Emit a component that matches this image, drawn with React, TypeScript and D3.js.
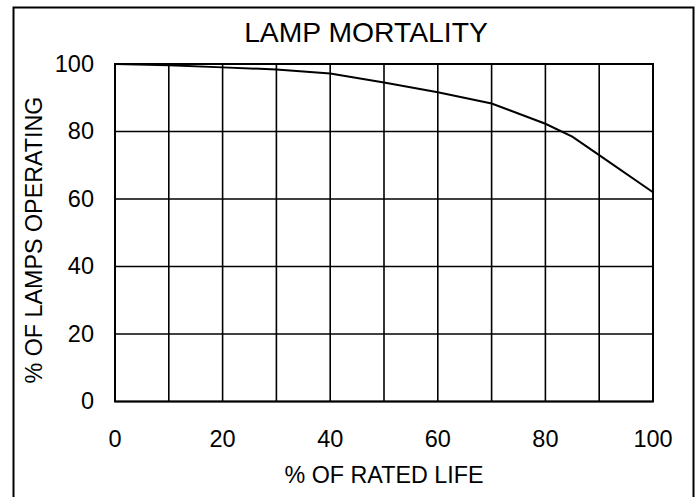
import React from "react";
import * as d3 from "d3";

const ratedLife = [0, 10, 20, 30, 40, 50, 60, 70, 80, 85, 90, 100];
const lampsOperating = [100, 99.6, 99, 98.4, 97.2, 94.5, 91.6, 88.3, 82.3, 78.5, 73, 62];
const xTicks = [0, 20, 40, 60, 80, 100];
const yTicks = [0, 20, 40, 60, 80, 100];
const xGrid = [0, 10, 20, 30, 40, 50, 60, 70, 80, 90, 100];
const titleText = "LAMP MORTALITY";
const xTitle = "% OF RATED LIFE";
const yTitle = "% OF LAMPS OPERATING";

const W = 699;
const H = 497;
const plot = { left: 115, right: 653, top: 64, bottom: 401.5 };
const font = "'Liberation Sans', Arial, sans-serif";

export default function App() {
  const x = d3.scaleLinear().domain([0, 100]).range([plot.left, plot.right]);
  const y = d3.scaleLinear().domain([0, 100]).range([plot.bottom, plot.top]);
  const pts = ratedLife.map((v, i) => [v, lampsOperating[i]] as [number, number]);
  const line = d3
    .line<[number, number]>()
    .x((d) => x(d[0]))
    .y((d) => y(d[1]));

  return (
    <svg
      width={W}
      height={H}
      style={{ position: "absolute", left: 0, top: 0, background: "#fff" }}
      fontFamily={font}
    >
      <rect x={0} y={0} width={W} height={H} fill="#fff" />
      <rect x={13.5} y={7.5} width={680} height={520} fill="none" stroke="#000" strokeWidth={2} />
      <text x={366} y={42.3} fontSize={28.3} textAnchor="middle" fill="#000">
        {titleText}
      </text>
      {xGrid.map((v) => (
        <line key={"xg" + v} x1={x(v)} x2={x(v)} y1={plot.top} y2={plot.bottom} stroke="#000" strokeWidth={1.6} />
      ))}
      {yTicks.map((v) => (
        <line key={"yg" + v} x1={plot.left} x2={plot.right} y1={y(v)} y2={y(v)} stroke="#000" strokeWidth={1.6} />
      ))}
      <rect
        x={plot.left}
        y={plot.top}
        width={plot.right - plot.left}
        height={plot.bottom - plot.top}
        fill="none"
        stroke="#000"
        strokeWidth={2}
      />
      <path d={line(pts) || ""} fill="none" stroke="#000" strokeWidth={2} />
      {yTicks.map((v) => (
        <text key={"yt" + v} x={94} y={y(v) + 7.5} fontSize={23.5} textAnchor="end" fill="#000">
          {v}
        </text>
      ))}
      {xTicks.map((v) => (
        <text key={"xt" + v} x={x(v)} y={446.5} fontSize={23.5} textAnchor="middle" fill="#000">
          {v}
        </text>
      ))}
      <text x={384} y={483} fontSize={23.3} textAnchor="middle" fill="#000">
        {xTitle}
      </text>
      <text
        transform={`translate(42,240) rotate(-90)`}
        fontSize={23.3}
        textAnchor="middle"
        fill="#000"
      >
        {yTitle}
      </text>
    </svg>
  );
}
